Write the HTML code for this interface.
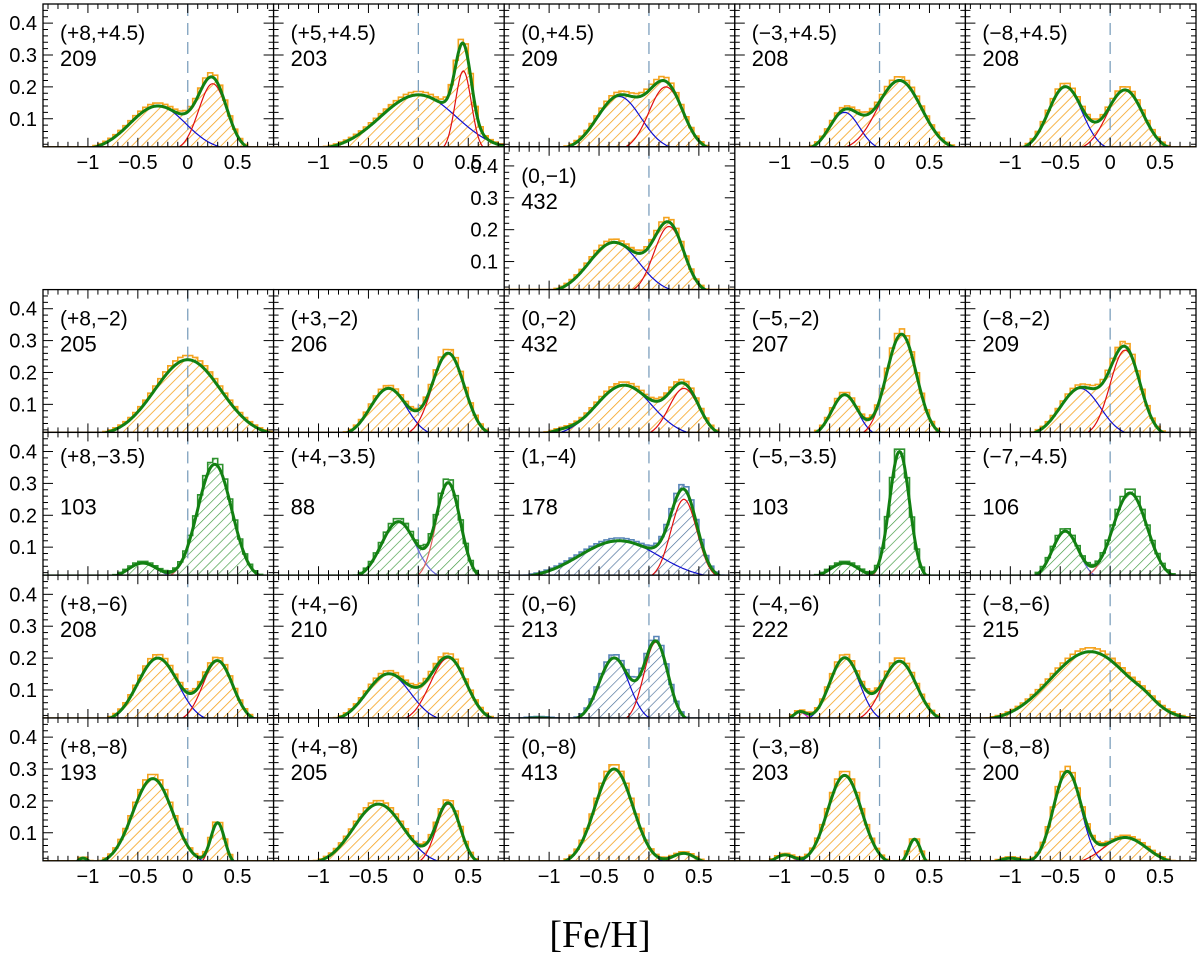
<!DOCTYPE html>
<html><head><meta charset="utf-8"><style>
html,body{margin:0;padding:0;background:#fff}
svg{display:block}
text{font-family:"Liberation Sans",sans-serif}
</style></head><body>
<svg id="fig" width="1200" height="957" viewBox="0 0 1200 957" xmlns="http://www.w3.org/2000/svg">
<defs>
<pattern id="hatch-orange" patternUnits="userSpaceOnUse" width="7" height="7" patternTransform="rotate(45)"><line x1="0" y1="0" x2="0" y2="7" stroke="#f5a31f" stroke-width="1.6"/></pattern>
<pattern id="hatch-green" patternUnits="userSpaceOnUse" width="7" height="7" patternTransform="rotate(45)"><line x1="0" y1="0" x2="0" y2="7" stroke="#3f9a3f" stroke-width="1.3"/></pattern>
<pattern id="hatch-blue" patternUnits="userSpaceOnUse" width="7" height="7" patternTransform="rotate(45)"><line x1="0" y1="0" x2="0" y2="7" stroke="#4a6f9a" stroke-width="1.3"/></pattern>
</defs>
<text x="600" y="947" text-anchor="middle" font-size="38" style="font-family:'Liberation Serif',serif">[Fe/H]</text>
</svg>
<script>
const panelLabels = ["(+8,+4.5)","(+5,+4.5)","(0,+4.5)","(\u22123,+4.5)","(\u22128,+4.5)","(0,\u22121)",
 "(+8,\u22122)","(+3,\u22122)","(0,\u22122)","(\u22125,\u22122)","(\u22128,\u22122)",
 "(+8,\u22123.5)","(+4,\u22123.5)","(1,\u22124)","(\u22125,\u22123.5)","(\u22127,\u22124.5)",
 "(+8,\u22126)","(+4,\u22126)","(0,\u22126)","(\u22124,\u22126)","(\u22128,\u22126)",
 "(+8,\u22128)","(+4,\u22128)","(0,\u22128)","(\u22123,\u22128)","(\u22128,\u22128)"];
const panelCounts = ["209","203","209","208","208","432","205","206","432","207","209","103","88","178","103","106","208","210","213","222","215","193","205","413","203","200"];
const panelRows = [0,0,0,0,0,1,2,2,2,2,2,3,3,3,3,3,4,4,4,4,4,5,5,5,5,5];
const panelCols = [0,1,2,3,4,2,0,1,2,3,4,0,1,2,3,4,0,1,2,3,4,0,1,2,3,4];
const panelHist = ["o","o","o","o","o","o","o","o","o","o","o","g","g","b","g","g","o","o","b","o","o","o","o","o","o","o"];
const compPeak = [[0.14,0.21,0.008],[0.175,0.25],[0.17,0.2],[0.12,0.22],[0.2,0.19],[0.16,0.21],
 [0.24],[0.15,0.26],[0.16,0.15,0.01],[0.13,0.32],[0.15,0.27],
 [0.05,0.36],[0.18,0.3],[0.12,0.25],[0.05,0.4],[0.15,0.27],
 [0.2,0.19],[0.15,0.2],[0.2,0.25,0.012],[0.2,0.19,0.03],[0.22,0.012],
 [0.27,0.13,0.02],[0.19,0.19],[0.3,0.035],[0.28,0.08,0.03],[0.29,0.085,0.02]];
const compMean = [[-0.3,0.25,-1.4],[0.0,0.45],[-0.3,0.17],[-0.35,0.2],[-0.45,0.15],[-0.35,0.2],
 [0.0],[-0.3,0.3],[-0.25,0.35,-0.9],[-0.35,0.22],[-0.3,0.15],
 [-0.45,0.27],[-0.2,0.3],[-0.3,0.35],[-0.35,0.2],[-0.45,0.2],
 [-0.3,0.3],[-0.3,0.3],[-0.35,0.07,-1.1],[-0.35,0.2,-0.8],[-0.2,0.35],
 [-0.35,0.3,-1.05],[-0.4,0.3],[-0.35,0.35],[-0.35,0.35,-0.95],[-0.43,0.15,-1.0]];
const compSigma = [[0.28,0.14,0.08],[0.38,0.08],[0.22,0.17],[0.15,0.22],[0.17,0.18],[0.25,0.15],
 [0.33],[0.18,0.16],[0.28,0.15,0.12],[0.13,0.15],[0.2,0.15],
 [0.15,0.17],[0.17,0.12],[0.4,0.13],[0.15,0.1],[0.13,0.17],
 [0.2,0.15],[0.22,0.18],[0.15,0.12,0.2],[0.15,0.17,0.07],[0.4,0.1],
 [0.2,0.07,0.05],[0.25,0.12],[0.19,0.12],[0.17,0.06,0.1],[0.14,0.22,0.12]];
const compColor = [["#1010d0","#e01010","#d010d0"],["#1010d0","#e01010"],["#1010d0","#e01010"],["#1010d0","#e01010"],["#1010d0","#e01010"],["#1010d0","#e01010"],
 ["none"],["#1010d0","#e01010"],["#1010d0","#e01010","#d010d0"],["#1010d0","#e01010"],["#1010d0","#e01010"],
 ["#6a6ad8","#e06060"],["#6a6ad8","#e06060"],["#1010d0","#e01010"],["#6a6ad8","#e06060"],["#6a6ad8","#e06060"],
 ["#1010d0","#e01010"],["#1010d0","#e01010"],["#1010d0","#e01010","#d010d0"],["#1010d0","#e01010","#d010d0"],["none","#e01010"],
 ["#1010d0","#e01010","#d010d0"],["#1010d0","#e01010"],["#1010d0","#e01010"],["#1010d0","#e01010","#d010d0"],["#1010d0","#e01010","#d010d0"]];
const xTicks = [-1,-0.5,0,0.5];
const xTickLabels = ["\u22121","\u22120.5","0","0.5"];
const yTicks = [0.1,0.2,0.3,0.4];
const yTickLabels = ["0.1","0.2","0.3","0.4"];

const svg = document.getElementById('fig');
const NS = "http://www.w3.org/2000/svg";
const colX0 = 43, colW = 230.6, rowY0 = 4, rowH = 142.8;
const XMIN = -1.45, XMAX = 0.86, YMIN = 0.012, YMAX = 0.46;
function mk(tag, attrs, parent){const e=document.createElementNS(NS,tag);for(const k in attrs)e.setAttribute(k,attrs[k]);(parent||svg).appendChild(e);return e;}
function sx(c, v){return colX0 + c*colW + (v-XMIN)/(XMAX-XMIN)*colW;}
function sy(r, v){return rowY0 + (r+1)*rowH - (v-YMIN)/(YMAX-YMIN)*rowH;}
function mix(p, x){let s=0;for(let j=0;j<compPeak[p].length;j++){const d=(x-compMean[p][j])/compSigma[p][j];s+=compPeak[p][j]*Math.exp(-0.5*d*d);}return s;}
function comp(p,j,x){const d=(x-compMean[p][j])/compSigma[p][j];return compPeak[p][j]*Math.exp(-0.5*d*d);}
const histStroke = {o:"#f5a31f", g:"#2f922f", b:"#5a86b8"};
const histFill = {o:"url(#hatch-orange)", g:"url(#hatch-green)", b:"url(#hatch-blue)"};

for(let p=0;p<panelLabels.length;p++){
  const r=panelRows[p], c=panelCols[p];
  const g = mk('g',{});
  
  
  const left=colX0+c*colW, top=rowY0+r*rowH, bot=top+rowH, right=left+colW;
  mk('rect',{x:left,y:top,width:colW,height:rowH,fill:'#fff'},g);
  const clipId='clip'+p;
  const cp=mk('clipPath',{id:clipId},g); mk('rect',{x:left,y:top,width:colW,height:rowH},cp);
  const inner=mk('g',{'clip-path':'url(#'+clipId+')'},g);
  const bw=0.05; let d=''; let started=false;
  for(let b=XMIN; b<XMAX; b+=bw){
    const v=mix(p,b+bw/2);
    const h = v>0.006 ? v*1.04+0.004 : YMIN;
    if(!started){d+='M'+sx(c,b).toFixed(1)+','+sy(r,YMIN).toFixed(1);started=true;}
    d+=' L'+sx(c,b).toFixed(1)+','+sy(r,h).toFixed(1)+' L'+sx(c,b+bw).toFixed(1)+','+sy(r,h).toFixed(1);
  }
  d+=' L'+sx(c,XMAX).toFixed(1)+','+sy(r,YMIN).toFixed(1)+' Z';
  const hist=mk('path',{d:d,fill:histFill[panelHist[p]],stroke:histStroke[panelHist[p]],'stroke-width':1.6},inner);
  
  
  const zl=mk('line',{x1:sx(c,0),x2:sx(c,0),y1:top,y2:bot,stroke:'#7da0bd','stroke-width':1.3,'stroke-dasharray':'12,7'},inner);
  
  
  for(let j=0;j<compPeak[p].length;j++){
    if(compColor[p][j]==='none')continue;
    let cd='';
    for(let x=XMIN;x<=XMAX+1e-9;x+=0.01){const v=comp(p,j,x); if(v<0.004){continue;} cd+=(cd?' L':'M')+sx(c,x).toFixed(1)+','+sy(r,v).toFixed(1);}
    if(!cd)continue;
    const cl=mk('path',{d:cd,fill:'none',stroke:compColor[p][j],'stroke-width':1.2},inner);
    
    
  }
  let td='';
  for(let x=XMIN;x<=XMAX+1e-9;x+=0.01){const v=mix(p,x); if(v<0.003){continue;} td+=(td?' L':'M')+sx(c,x).toFixed(1)+','+sy(r,v).toFixed(1);}
  const tl=mk('path',{d:td,fill:'none',stroke:'#128012','stroke-width':3,'stroke-linejoin':'round'},inner);
  
  
  mk('rect',{x:left,y:top,width:colW,height:rowH,fill:'none',stroke:'#000','stroke-width':1.3},g);
  for(let k=-14;k<=8;k++){const v=k/10; const X=sx(c,v); const L=(k%5===0)?9:5;
    mk('line',{x1:X,x2:X,y1:bot,y2:bot-L,stroke:'#000','stroke-width':1},g);
    mk('line',{x1:X,x2:X,y1:top,y2:top+L,stroke:'#000','stroke-width':1},g);}
  for(let k=1;k<=22;k++){const v=k/50; if(v>YMAX)break; const Y=sy(r,v); const L=(k%5===0)?10:5;
    mk('line',{x1:left,x2:left+L,y1:Y,y2:Y,stroke:'#000','stroke-width':1},g);
    mk('line',{x1:right,x2:right-L,y1:Y,y2:Y,stroke:'#000','stroke-width':1},g);}
  const y1 = r===3 ? top+31 : top+36;
  const y2 = r===3 ? top+82 : top+62;
  const t1=mk('text',{x:left+17,y:y1,'font-size':21},g); t1.textContent=panelLabels[p];
  
  
  const t2=mk('text',{x:left+17,y:y2,'font-size':22},g); t2.textContent=panelCounts[p];
  
  
  if(c===0 || p===5){
    for(let i=0;i<yTicks.length;i++){const t=mk('text',{x:left-6,y:sy(r,yTicks[i])+7,'font-size':20,'text-anchor':'end'},svg);t.textContent=yTickLabels[i];
      
      }
  }
  if(r===5 || (r===0 && c!==2)){
    for(let i=0;i<xTicks.length;i++){const t=mk('text',{x:sx(c,xTicks[i]),y:bot+22,'font-size':20,'text-anchor':'middle'},svg);t.textContent=xTickLabels[i];
      
      }
  }
}
</script>
</body></html>
